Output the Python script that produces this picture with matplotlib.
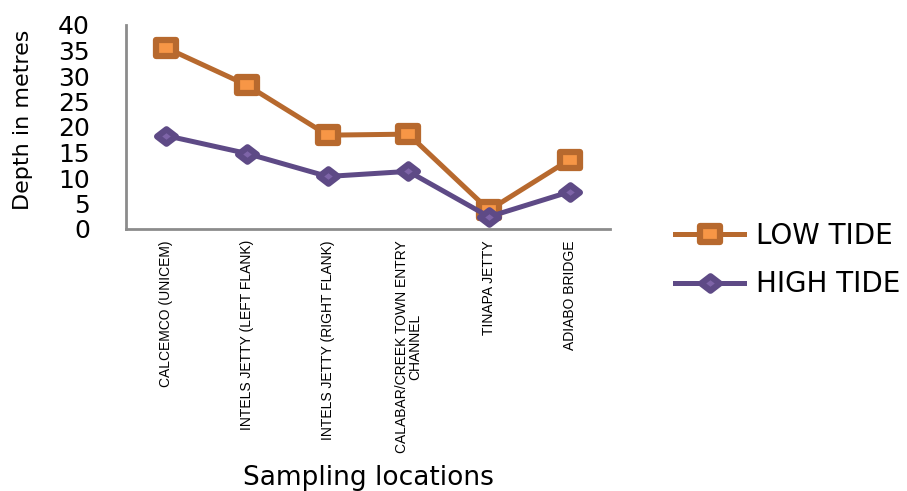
import matplotlib
matplotlib.use("Agg")
import matplotlib.pyplot as plt
from matplotlib.markers import MarkerStyle
from matplotlib.path import Path

categories = ["CALCEMCO (UNICEM)", "INTELS JETTY (LEFT FLANK)", "INTELS JETTY (RIGHT FLANK)",
              "CALABAR/CREEK TOWN ENTRY\nCHANNEL", "TINAPA JETTY", "ADIABO BRIDGE"]
low_tide = [35.5, 28.2, 18.4, 18.6, 3.7, 13.6]
high_tide = [18.3, 14.8, 10.3, 11.3, 2.4, 7.3]
yticks = [0, 5, 10, 15, 20, 25, 30, 35, 40]

main = "DejaVu Sans"
ORANGE = "#B7692E"
ORANGE_FILL = "#F79646"
PURPLE = "#5E4A86"
PURPLE_FILL = "#7E64A8"

sq_path = Path([(-1.37, -1), (1.37, -1), (1.37, 1), (-1.37, 1), (-1.37, -1)],
               [Path.MOVETO, Path.LINETO, Path.LINETO, Path.LINETO, Path.CLOSEPOLY])
di_path = Path([(0, 1), (1.3, 0), (0, -1), (-1.3, 0), (0, 1)],
               [Path.MOVETO, Path.LINETO, Path.LINETO, Path.LINETO, Path.CLOSEPOLY])
sq_marker = MarkerStyle(sq_path, joinstyle="round")
di_marker = MarkerStyle(di_path, joinstyle="round")

fig = plt.figure(figsize=(9.07, 4.91), dpi=100)
ax = fig.add_axes([126/907, 1-229/491, (610-126)/907, (229-25)/491])

x = list(range(len(categories)))
ax.plot(x, low_tide, color=ORANGE, lw=3.6, marker=sq_marker, ms=15, mfc=ORANGE_FILL,
        mec=ORANGE, mew=4.5, label="LOW TIDE", zorder=3)
ax.plot(x, high_tide, color=PURPLE, lw=3.6, marker=di_marker, ms=13.5, mfc=PURPLE_FILL,
        mec=PURPLE, mew=4.5, label="HIGH TIDE", zorder=3)

ax.set_xlim(-0.5, len(categories)-0.5)
ax.set_ylim(0, 40)
ax.set_yticks(yticks)
ax.set_yticklabels([str(v) for v in yticks], fontfamily=main, fontsize=18)
ax.set_xticks(x)
ax.set_xticklabels(categories, rotation=90, fontfamily="Liberation Sans", fontsize=10,
                   ha="center", va="top", linespacing=0.95)
ax.tick_params(axis="y", length=0, pad=26)
ax.tick_params(axis="x", length=0, pad=8)
for s in ["top", "right"]:
    ax.spines[s].set_visible(False)
for s in ["left", "bottom"]:
    ax.spines[s].set_color("#8C8C8C")
    ax.spines[s].set_linewidth(2)

fig.text(23/907, 1-120/491, "Depth in metres", rotation=90, ha="center", va="center",
         fontfamily=main, fontsize=16)
fig.text(368/907, 1-478/491, "Sampling locations", ha="center", va="center",
         fontfamily=main, fontsize=19)

leg = fig.legend(loc="center left", bbox_to_anchor=(650/907, 1-260/491), frameon=False,
                 prop={"family": main, "size": 20}, handlelength=2.5, labelspacing=0.75,
                 handletextpad=0.4)

fig.savefig("out.png", dpi=100)
